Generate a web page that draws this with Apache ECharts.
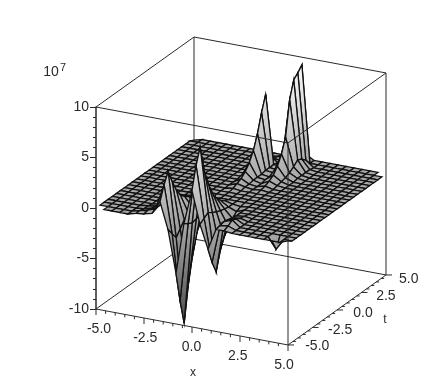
<!DOCTYPE html>
<html><head><meta charset="utf-8">
<script src="https://cdn.jsdelivr.net/npm/echarts@6/dist/echarts.min.js"></script>
<style>html,body{margin:0;padding:0;background:#fff}#c{width:439px;height:388px}</style>
</head><body><div id="c"></div>
<script>
const xGrid = [-5,-4.583,-4.167,-3.75,-3.333,-2.917,-2.5,-2.083,-1.667,-1.25,-0.833,-0.417,0,0.417,0.833,1.25,1.667,2.083,2.5,2.917,3.333,3.75,4.167,4.583,5];
const tGrid = xGrid.slice();
const xTickLabels = ['-5.0','-2.5','0.0','2.5','5.0'];
const tTickLabels = ['-5.0','-2.5','0.0','2.5','5.0'];
const axisTicks = [-5,-2.5,0,2.5,5];

// z / 10^7 along t (index 0 = t -5) for the columns of x that are not flat
const col00 = [0,0,0,0,0,0,0,0,0,0,0,0,0,0,0,0,0,0,0,0,0,0,0,0,-0.2];
const col05 = [0.2,0.2,0.1,0.1,0,0,0,0,0,0,0,0,0,0,0,0,0,0,0,0,0,0,0,0,0];
const col06 = [0.3,0.4,0.3,0.2,0.1,0,0,0,0,0,0,0,0,0,0,0,0,0,0,0,0,0,0,0,0];
const col07 = [0.5,0.7,0.8,0.5,0.3,0.2,0.1,0,0,0,0,0,0,0,0,0,0,0,0,0,0,0,0,0,0];
const col08 = [1.8,3.2,4.2,2.9,1.8,1.0,0.6,0.3,0.1,0,0,0,0,0,0,0,0,0,0,0,0,0,0,0,0];
const col09 = [-0.8,-1.5,-2.2,-1.6,-1.0,-0.6,-0.3,-0.1,0,0,0,0,0,0,0,0,0,0,0,0,0,0,0,0,0];
const col10 = [-5.0,-8.0,-10.5,-7.0,-4.5,-2.5,-1.5,-0.8,-0.4,-0.1,0,0,0,0,0,0,0,0,0,0,0.1,0,0,0,0];
const col11 = [0.1,-0.2,-0.4,-0.3,-0.2,-0.1,0,0,0,0,0,0,0.1,0.3,0.5,0.9,1.5,2.4,3.8,5.6,7.1,0.8,0.2,0.1,0];
const col12 = [3.5,5.7,7.2,4.6,3.0,1.8,1.0,0.5,0.2,0,0,0,0,0.1,0.1,0.2,0.2,0.2,0.3,0.3,0.3,0.2,0.1,0,0];
const col13 = [0.3,0.6,0.9,0.6,0.4,0.2,0.1,0,0,0,0,0,0,0,0,0,0.1,0.1,0.2,0.2,0.3,0.4,0.5,0.5,0.1];
const col14 = [-2.0,-3.6,-4.8,-3.0,-1.9,-1.2,-0.7,-0.3,-0.1,0,0,0,0,0.1,0.2,0.4,0.7,1.3,2.2,3.6,7.0,8.7,9.1,9.6,0.5];
const col15 = [0.1,0.2,0.3,0.2,0.1,0,0,0,0,0,0,0,0,0,0,0.1,0.2,0.3,0.5,0.8,1.2,1.0,0.6,0,0];
const col16 = [0.1,0.3,0.6,0.4,0.2,0.1,0,0,0,0,0,0,0,0,0,0,0,0,0.1,0.1,0.1,0.1,0,0,0];
const col22 = [0,-1.1,0,0,0,0,0,0,0,0,0,0,0,0,0,0,0,0,0,0,0,0,0,0,0];
const col24 = [0.3,0,0,0,0,0,0,0,0,0,0,0,0,0,0,0,0,0,0,0,0,0,0,0,0];
const zColumns = {0:col00,5:col05,6:col06,7:col07,8:col08,9:col09,10:col10,11:col11,12:col12,13:col13,14:col14,15:col15,16:col16,22:col22,24:col24};
const zAt = (i,j) => (zColumns[i] ? zColumns[i][j] : 0);

// oblique box: horizontal run and z-equivalent rise per unit of x and t
const run = {x:19.2, t:9.8};
const rise = {x:-0.356, t:0.693};
const project = (x,t,z) => [(x+5)*run.x+(t+5)*run.t, z+(x+5)*rise.x+(t+5)*rise.t];

// painter's order: far cells first
const cells = [];
for (let i=0;i<24;i++) for (let j=23;j>=0;j--) {
  if ((i===0&&j===0)||(i===23&&j===23)) continue;
  cells.push([i,j]);
}
const shade = z => {
  const g = Math.max(0,Math.min(1,0.3+0.7*(z+10.5)/20.5));
  const v = Math.round(g*255);
  return 'rgb('+v+','+v+','+v+')';
};
const INK = '#2a2a2a';
const FONT = '14px "Liberation Sans", Arial, sans-serif';

function line(api,a,b,w){
  const p=api.coord(project(a[0],a[1],a[2])), q=api.coord(project(b[0],b[1],b[2]));
  return {type:'line',silent:true,shape:{x1:p[0],y1:p[1],x2:q[0],y2:q[1]},style:{stroke:INK,lineWidth:w||1,fill:null}};
}
const backEdges = [
  [[-5,5,10],[-5,-5,10]],[[-5,5,10],[5,5,10]],[[-5,5,10],[-5,5,-10]],
  [[-5,5,-10],[-5,-5,-10]],[[-5,5,-10],[5,5,-10]]
];
const frontEdges = [
  [[-5,-5,10],[5,-5,10]],[[5,-5,10],[5,5,10]],[[5,-5,10],[5,-5,-10]],[[5,5,10],[5,5,-10]],
  [[-5,-5,-10],[5,-5,-10]],[[5,-5,-10],[5,5,-10]]
];
const xTickRuns = [];
for (let k=0;k<=20;k++) xTickRuns.push(-5+k*0.5);

const option = {
  animation:false,
  grid:{left:96,width:290,top:107,height:202,show:false},
  xAxis:{type:'value',min:0,max:290,show:false},
  yAxis:{type:'value',min:-10,max:10,interval:5,position:'left',
    splitLine:{show:false},
    axisLine:{show:true,lineStyle:{color:INK,width:1.5}},
    axisTick:{show:true,length:6,lineStyle:{color:INK}},
    minorTick:{show:true,splitNumber:5,length:3,lineStyle:{color:INK}},
    axisLabel:{color:INK,fontSize:14,fontFamily:'"Liberation Sans", Arial, sans-serif',margin:7},
    name:'{b|10}{s|7}',nameLocation:'end',nameGap:25,
    nameTextStyle:{color:INK,align:'right',padding:[0,30,0,0],
      rich:{b:{fontSize:14,color:INK,fontFamily:'"Liberation Sans", Arial, sans-serif',lineHeight:20},
            s:{fontSize:11,color:INK,fontFamily:'"Liberation Sans", Arial, sans-serif',padding:[0,0,9,1],verticalAlign:'bottom',lineHeight:20}}}
  },
  series:[
    {type:'custom',z:1,clip:false,silent:true,data:[0],renderItem:(p,api)=>({type:'group',children:backEdges.map(e=>line(api,e[0],e[1]))})},
    {type:'custom',z:2,clip:false,silent:true,data:cells,
      renderItem:(p,api)=>{
        const c=cells[p.dataIndex], i=c[0], j=c[1];
        const corners=[[i,j],[i+1,j],[i+1,j+1],[i,j+1]];
        const zs=corners.map(k=>zAt(k[0],k[1]));
        const pts=corners.map((k,n)=>api.coord(project(xGrid[k[0]],tGrid[k[1]],zs[n])));
        const lo=zs.indexOf(Math.min.apply(null,zs)), hi=zs.indexOf(Math.max.apply(null,zs));
        const fill = zs[hi]-zs[lo]<0.3 ? shade(zs[0]) :
          new echarts.graphic.LinearGradient(pts[lo][0],pts[lo][1],pts[hi][0],pts[hi][1],
            [{offset:0,color:shade(zs[lo])},{offset:1,color:shade(zs[hi])}],true);
        return {type:'polygon',shape:{points:pts},style:{fill:fill,stroke:'#111',lineWidth:1.3}};
      }},
    {type:'custom',z:3,clip:false,silent:true,data:[0],renderItem:(p,api)=>{
      const kids=frontEdges.map(e=>line(api,e[0],e[1]));
      xTickRuns.forEach((v,k)=>{
        const major=k%5===0, len=major?6:3;
        const a=api.coord(project(v,-5,-10));
        kids.push({type:'line',shape:{x1:a[0],y1:a[1],x2:a[0],y2:a[1]+len},style:{stroke:INK,lineWidth:1}});
        const b=api.coord(project(5,v,-10));
        kids.push({type:'line',shape:{x1:b[0],y1:b[1],x2:b[0]+len,y2:b[1]},style:{stroke:INK,lineWidth:1}});
      });
      axisTicks.forEach((v,k)=>{
        const a=api.coord(project(v,-5,-10));
        kids.push({type:'text',style:{text:xTickLabels[k],x:a[0]-v*0.7-0.5,y:a[1]+20.5,textAlign:'center',textVerticalAlign:'middle',font:FONT,fill:INK}});
        const b=api.coord(project(5,v,-10));
        kids.push({type:'text',style:{text:tTickLabels[k],x:b[0]+26-v*0.65,y:b[1]+3+v*0.3,textAlign:'center',textVerticalAlign:'middle',font:FONT,fill:INK}});
      });
      const xn=api.coord(project(0,-5,-10));
      kids.push({type:'text',style:{text:'x',x:xn[0]+1,y:xn[1]+46,textAlign:'center',textVerticalAlign:'middle',font:'12px "Liberation Sans", Arial, sans-serif',fill:INK}});
      const tn=api.coord(project(5,0,-10));
      kids.push({type:'text',style:{text:'t',x:tn[0]+48,y:tn[1]+10,textAlign:'center',textVerticalAlign:'middle',font:'12px "Liberation Sans", Arial, sans-serif',fill:INK}});
      return {type:'group',children:kids};
    }}
  ]
};
echarts.init(document.getElementById('c'),null,{renderer:'canvas'}).setOption(option);
</script></body></html>
